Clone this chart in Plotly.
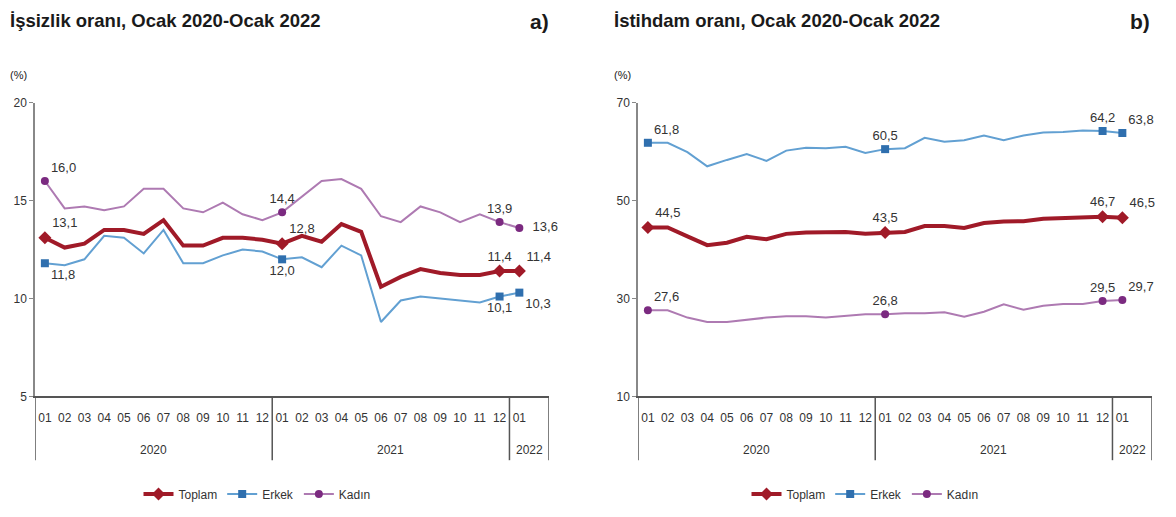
import plotly.graph_objects as go

# ---------------- data ----------------
years = ["2020"] * 12 + ["2021"] * 12 + ["2022"]
months = ["01", "02", "03", "04", "05", "06", "07", "08", "09", "10", "11", "12"] * 2 + ["01"]

# a) İşsizlik oranı (%)
unemp_toplam = [13.1, 12.6, 12.8, 13.5, 13.5, 13.3, 14.0, 12.7, 12.7, 13.1, 13.1, 13.0,
                12.8, 13.2, 12.9, 13.8, 13.4, 10.6, 11.1, 11.5, 11.3, 11.2, 11.2, 11.4,
                11.4]
unemp_erkek = [11.8, 11.7, 12.0, 13.2, 13.1, 12.3, 13.5, 11.8, 11.8, 12.2, 12.5, 12.4,
               12.0, 12.1, 11.6, 12.7, 12.2, 8.8, 9.9, 10.1, 10.0, 9.9, 9.8, 10.1,
               10.3]
unemp_kadin = [16.0, 14.6, 14.7, 14.5, 14.7, 15.6, 15.6, 14.6, 14.4, 14.9, 14.3, 14.0,
               14.4, 15.2, 16.0, 16.1, 15.6, 14.2, 13.9, 14.7, 14.4, 13.9, 14.3, 13.9,
               13.6]

# b) İstihdam oranı (%)
emp_toplam = [44.5, 44.5, 42.7, 40.9, 41.4, 42.6, 42.1, 43.2, 43.5, 43.6, 43.6, 43.2,
              43.5, 43.6, 44.8, 44.8, 44.4, 45.4, 45.7, 45.8, 46.3, 46.4, 46.6, 46.7,
              46.5]
emp_erkek = [61.8, 61.8, 59.9, 57.0, 58.3, 59.5, 58.1, 60.2, 60.8, 60.7, 61.0, 59.7,
             60.5, 60.7, 62.8, 62.0, 62.3, 63.3, 62.3, 63.3, 63.9, 64.0, 64.3, 64.2,
             63.8]
emp_kadin = [27.6, 27.6, 26.1, 25.2, 25.2, 25.7, 26.1, 26.4, 26.4, 26.1, 26.4, 26.8,
             26.8, 27.0, 27.0, 27.2, 26.3, 27.3, 28.8, 27.7, 28.5, 28.9, 28.9, 29.5,
             29.7]

series_names = ["Toplam", "Erkek", "Kadın"]
labeled_idx = [0, 12, 23, 24]

# ---------------- styling ----------------
FONT = "Liberation Sans, Arial, sans-serif"
line_colors = {"Toplam": "#A01A28", "Erkek": "#62A0D2", "Kadın": "#AE7AB2"}
marker_colors = {"Toplam": "#A01A28", "Erkek": "#2F6FAE", "Kadın": "#7B2A80"}
symbols = {"Toplam": "diamond", "Erkek": "square", "Kadın": "circle"}
widths = {"Toplam": 4, "Erkek": 2, "Kadın": 2}
msizes = {"Toplam": 10, "Erkek": 8, "Kadın": 8}

W, H = 1160, 501          # page body has an 8px margin
OFF = 8


def px_x(p):
    return (p - OFF) / W


def px_y(p):
    return 1 - (p - OFF) / H


x_idx = list(range(len(months)))
# axis has one extra empty slot after the last month (as in the reference)
n_slots = len(months) + 1
slot_years = years + [years[-1]]

pos_a = {
    "Toplam": ["top right", "top right", "top center", "top right"],
    "Erkek": ["bottom right", "bottom center", "bottom center", "bottom right"],
    "Kadın": ["top right", "top center", "top center", "middle right"],
}
pos_b = {k: ["top right", "top center", "top center", "top right"] for k in series_names}


def fmt(v):
    return f"{v:.1f}".replace(".", ",")


def make_trace(name, vals, positions, xaxis, yaxis, legend):
    texts, tpos, mcols = [], [], []
    for i in range(len(vals)):
        if i in labeled_idx:
            k = labeled_idx.index(i)
            txt = fmt(vals[i])
            if positions[k] == "middle right":
                txt = "  " + txt
            texts.append(txt)
            tpos.append(positions[k])
            mcols.append(marker_colors[name])
        else:
            texts.append("")
            tpos.append("top center")
            mcols.append("rgba(0,0,0,0)")
    return go.Scatter(
        x=x_idx, y=vals, name=name,
        mode="lines+markers+text",
        line=dict(color=line_colors[name], width=widths[name]),
        marker=dict(symbol=symbols[name], size=msizes[name], color=mcols, line=dict(width=0)),
        text=texts, textposition=tpos,
        textfont=dict(family=FONT, size=13, color="#333333"),
        cliponaxis=False, xaxis=xaxis, yaxis=yaxis, legend=legend, hoverinfo="skip",
    )


fig = go.Figure()
for name, vals in zip(series_names, [unemp_toplam, unemp_erkek, unemp_kadin]):
    fig.add_trace(make_trace(name, vals, pos_a[name], "x", "y", "legend"))
for name, vals in zip(series_names, [emp_toplam, emp_erkek, emp_kadin]):
    fig.add_trace(make_trace(name, vals, pos_b[name], "x2", "y2", "legend2"))

y_bottom_px, y_top_px = 398, 103
ydom = [px_y(y_bottom_px), px_y(y_top_px)]
xax_common = dict(
    range=[-0.5, n_slots - 0.5], tickvals=x_idx, ticktext=months,
    showline=True, linecolor="#555555", linewidth=1.5,
    showgrid=False, zeroline=False, ticks="", tickangle=0, ticklabelstandoff=9,
    tickfont=dict(family=FONT, size=12, color="#333333"), automargin=False,
)
yax_common = dict(
    showline=True, linecolor="#888888", linewidth=1.5, showgrid=False,
    zeroline=False, ticks="outside", ticklen=4, tickcolor="#888888",
    tickfont=dict(family=FONT, size=12, color="#333333"), automargin=False,
)

legend_common = dict(orientation="h", xanchor="center", y=px_y(496), yanchor="middle",
                     font=dict(family=FONT, size=12, color="#333333"),
                     bgcolor="rgba(0,0,0,0)", itemwidth=30)

fig.update_layout(
    template="none",
    width=W, height=H,
    margin=dict(l=0, r=0, t=0, b=0),
    paper_bgcolor="white", plot_bgcolor="white",
    font=dict(family=FONT, size=12, color="#333333"),
    xaxis=dict(domain=[px_x(35), px_x(549)], anchor="y", **xax_common),
    yaxis=dict(domain=ydom, range=[5, 20], tickvals=[5, 10, 15, 20], anchor="x", **yax_common),
    xaxis2=dict(domain=[px_x(638), px_x(1152)], anchor="y2", **xax_common),
    yaxis2=dict(domain=ydom, range=[10, 70], tickvals=[10, 30, 50, 70], anchor="x2", **yax_common),
    legend=dict(x=px_x(257), **legend_common),
    legend2=dict(x=px_x(865), **legend_common),
    showlegend=True,
)

# year group dividers and labels (computed from the year of each axis slot)
groups = []
start = 0
for i in range(1, n_slots + 1):
    if i == n_slots or slot_years[i] != slot_years[start]:
        groups.append((slot_years[start], start, i - 1))
        start = i
div_bottom = px_y(462)
year_y = px_y(452)
for xr in ["x", "x2"]:
    bounds = sorted({g[1] - 0.5 for g in groups} | {g[2] + 0.5 for g in groups})
    for b in bounds:
        fig.add_shape(type="line", xref=xr, yref="paper", x0=b, x1=b,
                      y0=ydom[0], y1=div_bottom, line=dict(color="#555555", width=1.5))
    for yr, s, e in groups:
        fig.add_annotation(xref=xr, yref="paper", x=(s + e) / 2, y=year_y, text=yr,
                           showarrow=False, xanchor="center", yanchor="middle",
                           font=dict(family=FONT, size=12, color="#333333"))

ann = [
    ("<b>İşsizlik oranı, Ocak 2020-Ocak 2022</b>", 8, 21, 18.5),
    ("<b>a)</b>", 528, 22, 21),
    ("(%)", 8, 75, 11),
    ("<b>İstihdam oranı, Ocak 2020-Ocak 2022</b>", 612, 21, 18.5),
    ("<b>b)</b>", 1128, 22, 21),
    ("(%)", 612, 75, 11),
]
for text, xp, yp, fs in ann:
    fig.add_annotation(xref="paper", yref="paper", xanchor="left", yanchor="middle",
                       showarrow=False, text=text, x=px_x(xp), y=px_y(yp),
                       font=dict(family=FONT, color="#1a1a1a", size=fs))

fig.write_html("out.html")
